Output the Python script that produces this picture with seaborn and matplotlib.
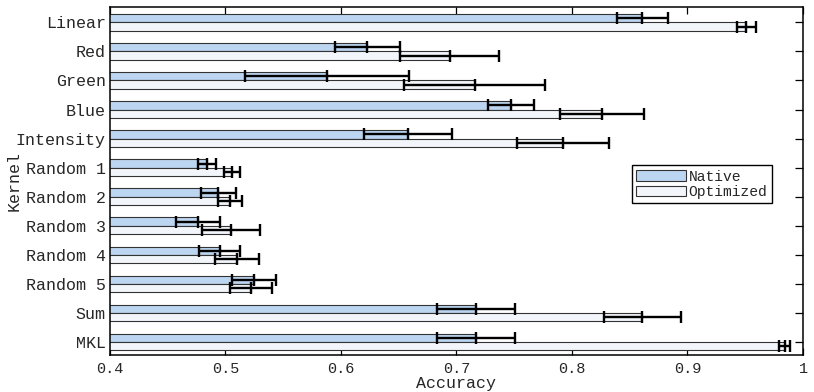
import pandas as pd
import seaborn as sns
import matplotlib.pyplot as plt

# valores
kernels = ['Linear', 'Red', 'Green', 'Blue', 'Intensity', 'Random 1', 'Random 2',
           'Random 3', 'Random 4', 'Random 5', 'Sum', 'MKL']
native_mean = [0.861, 0.623, 0.588, 0.747, 0.658, 0.484, 0.494, 0.476, 0.495, 0.525, 0.717, 0.717]
native_err = [0.022, 0.028, 0.071, 0.020, 0.038, 0.008, 0.015, 0.019, 0.018, 0.019, 0.034, 0.034]
optim_mean = [0.951, 0.694, 0.716, 0.826, 0.792, 0.506, 0.504, 0.505, 0.510, 0.522, 0.861, 0.984]
optim_err = [0.008, 0.043, 0.061, 0.036, 0.040, 0.007, 0.010, 0.025, 0.019, 0.018, 0.033, 0.005]
series = ['Native', 'Optimized']

df = pd.DataFrame({
    'Kernel': kernels * 2,
    'Accuracy': native_mean + optim_mean,
    'err': native_err + optim_err,
    'Tipo': ['Native'] * len(kernels) + ['Optimized'] * len(kernels),
})

sns.set_theme(style='white')
plt.rcParams['font.family'] = ['Liberation Mono', 'DejaVu Sans']

fig, ax = plt.subplots(figsize=(8.14, 3.92), dpi=100)
fig.subplots_adjust(left=0.135, right=0.9865, top=0.981, bottom=0.0944)

sns.barplot(data=df, y='Kernel', x='Accuracy', hue='Tipo', hue_order=series,
            order=kernels, orient='h', width=0.56, errorbar=None,
            palette=['#bcd5f0', '#f2f6fa'], edgecolor='#333333', linewidth=0.8,
            saturation=1, ax=ax)

# barras de error encima de cada barra
for cont, tipo in zip(ax.containers, series):
    sub = df[df['Tipo'] == tipo]
    ys = [b.get_y() + b.get_height() / 2 for b in cont]
    ax.errorbar(sub['Accuracy'], ys, xerr=sub['err'], fmt='none', ecolor='black',
                elinewidth=1.7, capsize=4.5, capthick=1.7, zorder=5)
    ax.plot(sub['Accuracy'], ys, linestyle='none', marker='|', markersize=9,
            markeredgewidth=1.7, color='black', zorder=6)

ax.set_xlim(0.4, 1.0)
ax.set_ylim(11.458, -0.517)
ax.set_xticks([0.4, 0.5, 0.6, 0.7, 0.8, 0.9, 1.0])
ax.set_xticklabels(['0.4', '0.5', '0.6', '0.7', '0.8', '0.9', '1'])
ax.tick_params(axis='x', direction='in', top=True, bottom=True, length=5, width=0.9,
               color='black', labelsize=11, pad=5)
ax.tick_params(axis='y', direction='in', left=False, right=True, length=5.5, width=0.9,
               color='black', labelsize=12, pad=3)
for s in ax.spines.values():
    s.set_color('black')
    s.set_linewidth(1.1)

ax.set_xlabel('Accuracy', fontsize=12, labelpad=0)
ax.set_ylabel('Kernel', fontsize=12)
ax.yaxis.set_label_coords(-0.128, 0.5)

leg = ax.legend(loc='upper left', bbox_to_anchor=(0.753, 0.546), fontsize=10.5,
                frameon=True, fancybox=False, edgecolor='black', framealpha=1,
                handlelength=3.4, handleheight=0.75, labelspacing=0.1,
                handletextpad=0.2, borderpad=0.3, borderaxespad=0)
leg.get_frame().set_linewidth(1.0)

plt.savefig('out.png', dpi=100)
